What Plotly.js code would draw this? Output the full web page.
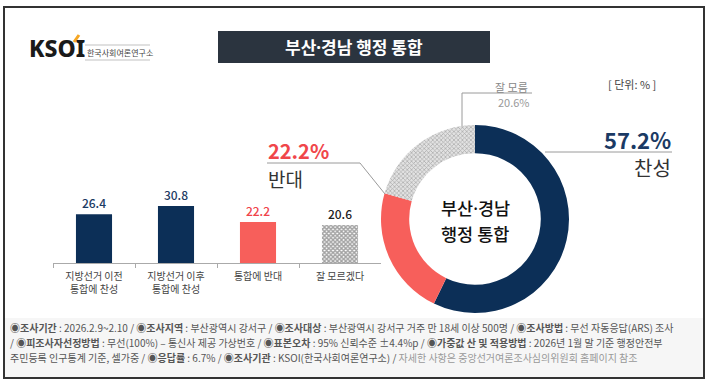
<!DOCTYPE html>
<html><head><meta charset="utf-8">
<script src="https://cdn.plot.ly/plotly-3.0.1.min.js"></script>
<style>html,body{margin:0;padding:0;background:#fff}#chart{width:710px;height:386px}</style>
</head><body><div id="chart"></div>
<script>
// ---- data ----
const barCategories = ['지방선거 이전<br>통합에 찬성', '지방선거 이후<br>통합에 찬성', '통합에 반대', '잘 모르겠다'];
const barValues = [26.4, 30.8, 22.2, 20.6];
const pieLabels = ['찬성', '반대', '잘 모름'];
const pieValues = [57.2, 22.2, 20.6];
const DOT = '<span style="font-family:\'Noto Sans\'">·</span>';
const chartTitle = '부산' + DOT + '경남 행정 통합';
const centerLines = ['부산' + DOT + '경남', '행정 통합'];
const unitLabel = '[ 단위: % ]';
const footLines = [
  '<b>◉조사기간</b> : 2026.2.9~2.10 / <b>◉조사지역</b> : 부산광역시 강서구 / <b>◉조사대상</b> : 부산광역시 강서구 거주 만 18세 이상 500명 / <b>◉조사방법</b> : 무선 자동응답(ARS) 조사',
  '/ <b>◉피조사자선정방법</b> : 무선(100%) – 통신사 제공 가상번호 / <b>◉표본오차</b> : 95% 신뢰수준 ±4.4%p / <b>◉가중값 산 및 적용방법</b> : 2026년 1월 말 기준 행정안전부',
  '주민등록 인구통계 기준, 셀가중 / <b>◉응답률</b> : 6.7% / <b>◉조사기관</b> : KSOI(한국사회여론연구소) / <span style="color:#999">자세한 사항은 중앙선거여론조사심의위원회 홈페이지 참조</span>'
];

const W = 710, H = 386;
const px = x => x / W;
const py = y => 1 - y / H;
const FONT = '"Noto Sans CJK KR", "Noto Sans", sans-serif';
const NAVY = '#0c2f57', RED = '#f75f5b';

const barTrace = {
  type: 'bar', x: barCategories, y: barValues,
  xaxis: 'x', yaxis: 'y',
  width: 0.44,
  marker: {
    color: [NAVY, NAVY, RED, '#ffffff'],
    pattern: { shape: ['', '', '', 'x'], fgcolor: '#222222', fillmode: 'overlay', size: 3, solidity: 0.7 },
    line: { width: 0 }
  },
  text: barValues.map(v => v.toFixed(1)),
  textposition: 'outside',
  textfont: { size: 12, color: ['#1d3b63', '#1d3b63', '#f0434a', '#222'], family: FONT, weight: 500 },
  cliponaxis: false,
  hoverinfo: 'skip'
};

const pieTrace = {
  type: 'pie', labels: pieLabels, values: pieValues,
  sort: false, direction: 'clockwise', rotation: 0,
  hole: 0.70,
  textinfo: 'none', hoverinfo: 'skip',
  domain: { x: [px(381), px(569)], y: [py(313), py(125)] },
  marker: {
    colors: [NAVY, RED, '#d4d4d4'],
    pattern: { shape: ['', '', 'x'], fgcolor: '#a8a8a8', bgcolor: '#e2e2e2', size: 3, solidity: 0.4 },
    line: { width: 0 }
  },
  showlegend: false
};

const shapes = [
  { type: 'rect', xref: 'paper', yref: 'paper', x0: px(5), x1: px(703), y0: py(377), y1: py(318), fillcolor: '#f6f6f6', line: { width: 0 }, layer: 'below' },
  { type: 'rect', xref: 'paper', yref: 'paper', x0: px(4), x1: px(704), y0: py(378), y1: py(7), line: { color: '#333', width: 2 } },
  { type: 'rect', xref: 'paper', yref: 'paper', x0: px(218), x1: px(490), y0: py(63), y1: py(31), fillcolor: '#2b343f', line: { width: 0 } },
  { type: 'line', xref: 'paper', yref: 'paper', x0: px(74), x1: px(79), y0: py(42), y1: py(35), line: { color: '#f5a623', width: 3 } },
  { type: 'line', xref: 'paper', yref: 'paper', x0: px(85), x1: px(150), y0: py(45), y1: py(45), line: { color: '#999', width: 0.6 } },
  { type: 'line', xref: 'paper', yref: 'paper', x0: px(85), x1: px(150), y0: py(60), y1: py(60), line: { color: '#999', width: 0.6 } },
  { type: 'line', xref: 'paper', yref: 'paper', x0: px(545), x1: px(672), y0: py(152), y1: py(152), line: { color: '#9a9a9a', width: 1 } },
  { type: 'path', xref: 'paper', yref: 'paper', path: `M ${px(267)} ${py(163)} L ${px(360)} ${py(163)} L ${px(385)} ${py(194)}`, line: { color: '#9a9a9a', width: 1 } },
  { type: 'path', xref: 'paper', yref: 'paper', path: `M ${px(462)} ${py(126)} L ${px(462)} ${py(93)} L ${px(532)} ${py(93)}`, line: { color: '#9a9a9a', width: 1 } }
];

const ann = (x, y, text, size, color, opts = {}) => Object.assign({
  xref: 'paper', yref: 'paper', x: px(x), y: py(y), text, showarrow: false,
  font: { size, color, family: FONT }, xanchor: 'center', yanchor: 'middle'
}, opts);

const annotations = [
  ann(354, 47, chartTitle, 17, '#ffffff', { font: { size: 17, color: '#fff', family: FONT, weight: 700 } }),
  ann(27, 48, 'KSOI', 23, '#1a1a1a', { xanchor: 'left', font: { size: 23, color: '#1a1a1a', family: '"Noto Sans", sans-serif', weight: 800 } }),
  ann(85, 52, '한국사회여론연구소', 8, '#444', { xanchor: 'left' }),
  ann(632, 84, unitLabel, 11, '#444'),
  ann(511, 87, pieLabels[2], 11, '#888'),
  ann(532, 102, pieValues[2].toFixed(1) + '%', 11, '#999', { xanchor: 'right' }),
  ann(673, 139, pieValues[0].toFixed(1) + '%', 22, '#1b3a64', { xanchor: 'right', font: { size: 22, color: '#1b3a64', family: FONT, weight: 700 } }),
  ann(673, 167, pieLabels[0], 20, '#333', { xanchor: 'right' }),
  ann(266, 150, pieValues[1].toFixed(1) + '%', 20, '#f0464a', { xanchor: 'left', font: { size: 20, color: '#f0464a', family: FONT, weight: 700 } }),
  ann(266, 178, pieLabels[1], 19, '#333', { xanchor: 'left' }),
  ann(475, 207, centerLines[0], 17, '#111', { font: { size: 17.5, color: '#111', family: FONT, weight: 500 } }),
  ann(475, 233, centerLines[1], 17, '#111', { font: { size: 17.5, color: '#111', family: FONT, weight: 500 } })
];
const footY = [327, 342, 357];
footLines.forEach((t, i) => annotations.push(ann(8, footY[i], t, 10, '#555', { xanchor: 'left' })));

const layout = {
  width: W, height: H,
  margin: { l: 0, r: 0, t: 0, b: 0 },
  paper_bgcolor: '#ffffff', plot_bgcolor: 'rgba(0,0,0,0)',
  font: { family: FONT },
  showlegend: false,
  xaxis: {
    domain: [px(53), px(381)], showgrid: false, zeroline: false,
    showline: true, linecolor: '#aaa', linewidth: 1,
    ticks: 'outside', tickson: 'boundaries', ticklen: 4, tickcolor: '#aaa',
    ticklabelstandoff: 4,
    tickfont: { size: 10, color: '#444', family: FONT }, fixedrange: true
  },
  yaxis: {
    domain: [py(263), py(189)], range: [0, 40], visible: false, fixedrange: true
  },
  shapes, annotations
};

Plotly.newPlot('chart', [barTrace, pieTrace], layout, { displayModeBar: false, staticPlot: true });
</script></body></html>
